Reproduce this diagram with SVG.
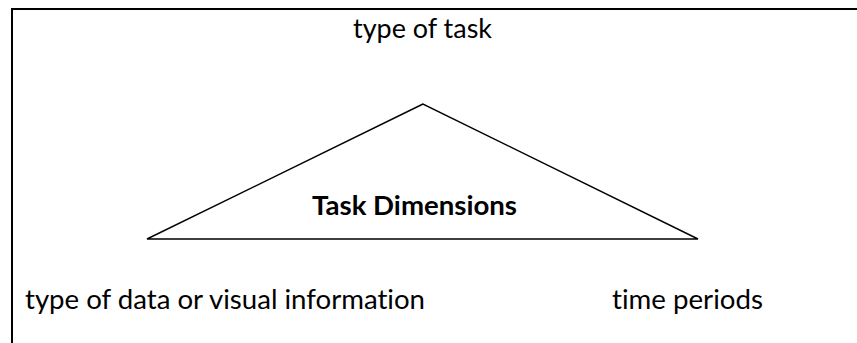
<svg xmlns="http://www.w3.org/2000/svg" width="857" height="343" viewBox="0 0 857 343">
  <style>
    .frame { fill: none; stroke: #000; stroke-width: 2; }
    .tri { fill: #fff; stroke: #000; stroke-width: 1.4; stroke-linejoin: miter; }
    .lbl, .title { font-family: Lato, "Open Sans", "Liberation Sans", sans-serif; font-size: 27px; fill: #000; font-variant-ligatures: none; }
    .title { font-weight: bold; }
  </style>
  <rect width="857" height="343" fill="#fff"/>
  <!-- outer frame (continues past the right and bottom edges) -->
  <rect class="frame" x="12" y="9" width="870" height="360"/>

  <g id="task-dimensions">
    <polygon class="tri" points="423,104 147,239 698,239"/>
    <text class="title" x="312" y="215" textLength="205" lengthAdjust="spacingAndGlyphs">Task Dimensions</text>
  </g>

  <g id="type-of-task">
    <text class="lbl" x="353" y="38" textLength="139" lengthAdjust="spacingAndGlyphs">type of task</text>
  </g>

  <g id="type-of-data">
    <text class="lbl" x="25" y="309" textLength="400" lengthAdjust="spacingAndGlyphs">type of data or visual information</text>
  </g>

  <g id="time-periods">
    <text class="lbl" x="612" y="309" textLength="151" lengthAdjust="spacingAndGlyphs">time periods</text>
  </g>

  <g id="connectors"></g>
</svg>
